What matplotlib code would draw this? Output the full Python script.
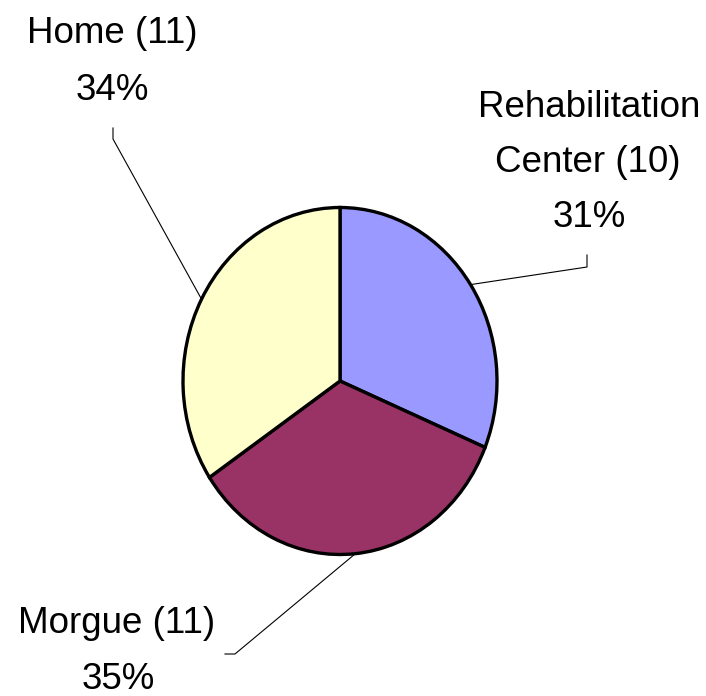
import numpy as np
import matplotlib
matplotlib.use("Agg")
import matplotlib.pyplot as plt

# Discharge destinations and counts
categories = ["Rehabilitation\nCenter", "Morgue", "Home"]
counts = [10, 11, 11]
pct_labels = ["31%", "35%", "34%"]
colors = ["#9999FF", "#993366", "#FFFFCC"]

W, H = 706, 696
DPI = 100
# pie centre and radii in pixels (ellipse: slightly taller than wide)
CX, CY = 340.0, 381.0
RX, RY = 157.0, 173.5

fig = plt.figure(figsize=(W / DPI, H / DPI), dpi=DPI)
ax = fig.add_axes([0, 0, 1, 1])
ax.pie(counts, colors=colors, startangle=90, counterclock=False,
       wedgeprops=dict(edgecolor="black", linewidth=2.4))
ax.set_aspect("auto")
ax.set_xlim(-CX / RX, (W - CX) / RX)
ax.set_ylim(-(H - CY) / RY, CY / RY)
ax.axis("off")


def px(x, y):
    """pixel (from top-left) -> data coordinates"""
    return (x - CX) / RX, (CY - y) / RY


# mid-angles of each wedge (degrees, counterclockwise from +x)
total = sum(counts)
angles = []
start = 90.0
for c in counts:
    sweep = 360.0 * c / total
    angles.append(start - sweep / 2)
    start -= sweep

font = dict(family=["Liberation Sans", "DejaVu Sans"], fontsize=26.5,
            color="black", ha="center", va="baseline")

# label text lines: (centre x, baseline y) in pixels
label_lines = [
    [(589, 117), (588, 172), (589, 227)],
    [(117, 633), (118, 689)],
    [(112, 43), (112, 100)],
]
# leader lines: elbow point and end point in pixels
leaders = [
    [(587, 267), (587, 255)],
    [(235, 654), (225, 654)],
    [(113, 139), (113, 128)],
]

for cat, n, pct, lines, lead, ang in zip(categories, counts, pct_labels,
                                         label_lines, leaders, angles):
    text_lines = cat.split("\n")
    text_lines[-1] = f"{text_lines[-1]} ({n})"
    text_lines.append(pct)
    for t, (x, y) in zip(text_lines, lines):
        ax.text(*px(x, y), t, **font)
    a = np.deg2rad(ang)
    p0 = (np.cos(a), np.sin(a))
    p1 = px(*lead[0])
    p2 = px(*lead[1])
    ax.plot([p0[0], p1[0], p2[0]], [p0[1], p1[1], p2[1]],
            color="black", linewidth=0.8, zorder=0)

fig.savefig("out.png", dpi=DPI, facecolor="white")
